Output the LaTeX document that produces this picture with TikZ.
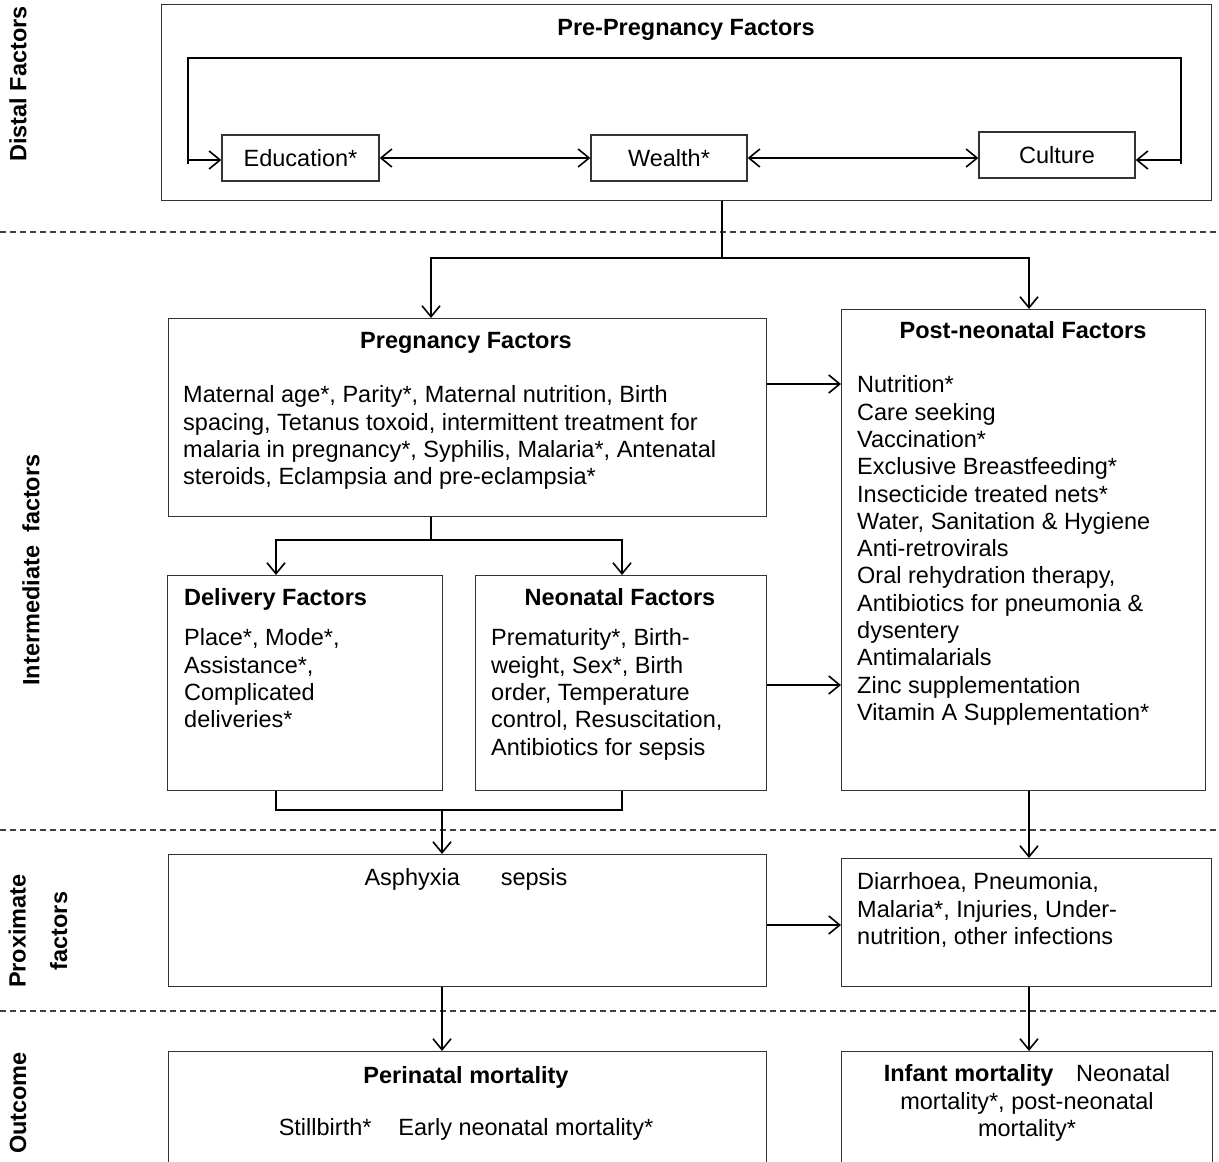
\documentclass[tikz,border=0pt]{standalone}
\usepackage{fontspec}
\setmainfont{Liberation Sans}
\usetikzlibrary{arrows.meta}
\begin{document}
\begin{tikzpicture}[x=1pt,y=-1pt,
  box/.style={draw=black!80, line width=1.3pt, inner sep=0pt, anchor=north west},
  sbox/.style={draw=black!80, line width=1.3pt, inner sep=0pt, minimum height=46pt, font=\fontsize{23.5}{27.3}\selectfont},
  conn/.style={line width=1.8pt},
  barb/.tip={Straight Barb[length=11pt,width=18pt,line width=1.6pt]},
  arr/.style={conn, -barb},
  darr/.style={conn, barb-barb},
  txt/.style={inner sep=0pt, font=\fontsize{23.5}{27.3}\selectfont, align=left, anchor=north west},
  ctxt/.style={inner sep=0pt, font=\fontsize{23.5}{27.3}\selectfont, align=center},
  ttl/.style={inner sep=0pt, font=\fontsize{23.5}{27.3}\selectfont\bfseries, anchor=base},
  side/.style={inner sep=0pt, font=\fontsize{23.5}{41.5}\selectfont\bfseries, rotate=90, align=center},
  sepline/.style={dash pattern=on 6pt off 4pt, line width=1.2pt, black!75}]
\clip (0,0) rectangle (1219,1162);
\fill[white] (0,0) rectangle (1219,1162);

% separators
\draw[sepline] (0,232) -- (1219,232);
\draw[sepline] (0,830) -- (1219,830);
\draw[sepline] (0,1011) -- (1219,1011);

% side labels
\node[side] (lDistal) at (18,84) {Distal Factors};
\node[side] (lInter) at (31,570) {Intermediate\ \ factors};
\node[side] (lProx) at (38,931) {Proximate\\factors};
\node[side] (lOut) at (18,1103) {Outcome};

% boxes
\node[box, minimum width=1050pt, minimum height=196pt] (pre) at (161,4) {};
\node[sbox, minimum width=157pt] (edu) at (300.5,158) {Education*};
\node[sbox, minimum width=156pt] (wea) at (669,158) {Wealth*};
\node[sbox, minimum width=156pt] (cul) at (1057,155) {Culture};
\node[box, minimum width=598pt, minimum height=198pt] (preg) at (168,318) {};
\node[box, minimum width=364pt, minimum height=481pt] (post) at (841,309) {};
\node[box, minimum width=275pt, minimum height=215pt] (deliv) at (167,575) {};
\node[box, minimum width=291pt, minimum height=215pt] (neo) at (475,575) {};
\node[box, minimum width=598pt, minimum height=132pt] (asp) at (168,854) {};
\node[box, minimum width=370pt, minimum height=128pt] (prox) at (841,858) {};
\node[box, minimum width=598pt, minimum height=160pt] (peri) at (168,1051) {};
\node[box, minimum width=371pt, minimum height=160pt] (inf) at (841,1051) {};

% titles and texts
\node[ttl] (tPre) at (686,35.4) {Pre-Pregnancy Factors};
\node[ttl] (tPreg) at (466,348.4) {Pregnancy Factors};
\node[txt] (xPreg) at (183,385.6) {Maternal age*, Parity*, Maternal nutrition, Birth\\spacing, Tetanus toxoid, intermittent treatment for\\malaria in pregnancy*, Syphilis, Malaria*, Antenatal\\steroids, Eclampsia and pre-eclampsia*};
\node[ttl] (tPost) at (1023,338.4) {Post-neonatal Factors};
\node[txt] (xPost) at (857,375.6) {Nutrition*\\Care seeking\\Vaccination*\\Exclusive Breastfeeding*\\Insecticide treated nets*\\Water, Sanitation \& Hygiene\\Anti-retrovirals\\Oral rehydration therapy,\\Antibiotics for pneumonia \&\\dysentery\\Antimalarials\\Zinc supplementation\\Vitamin A Supplementation*};
\node[ttl, anchor=base west] (tDel) at (184,605.4) {Delivery Factors};
\node[txt] (xDel) at (184,628.6) {Place*, Mode*,\\Assistance*,\\Complicated\\deliveries*};
\node[ttl] (tNeo) at (620,605.4) {Neonatal Factors};
\node[txt] (xNeo) at (491,628.6) {Prematurity*, Birth-\\weight, Sex*, Birth\\order, Temperature\\control, Resuscitation,\\Antibiotics for sepsis};
\node[ctxt, anchor=base] (xAsp) at (466,885.4) {Asphyxia\hspace{41pt}sepsis};
\node[txt] (xProx) at (857,872.6) {Diarrhoea, Pneumonia,\\Malaria*, Injuries, Under-\\nutrition, other infections};
\node[ttl] (tPeri) at (466,1083.4) {Perinatal mortality};
\node[ctxt, anchor=base] (xPeri) at (466,1135.4) {Stillbirth*\hspace{27pt}Early neonatal mortality*};
\node[ctxt, anchor=north] (xInf) at (1027,1064.6) {\textbf{Infant mortality}\hspace{16pt} Neonatal\\mortality*, post-neonatal\\mortality*};

% helper coordinates
\coordinate (loopL) at (188,58);
\coordinate (loopR) at (1181,58);
\coordinate (yEdu) at (0,160);
\coordinate (j1) at (722,258);
\coordinate (j2) at (431,540);
\coordinate (j3) at (442,810);
\coordinate (xa) at (276,0);
\coordinate (xb) at (622,0);
\coordinate (xc) at (431,0);
\coordinate (xe) at (1029,0);
\coordinate (y1) at (0,384);
\coordinate (y2) at (0,685);
\coordinate (y3) at (0,925);

% top loop
\draw[conn] (loopL |- 0,164) -- (loopL) -- (loopR) -- (loopR |- 0,164);
\draw[arr] (loopL |- yEdu) -- (edu.west |- yEdu);
\draw[arr] (loopR |- yEdu) -- (cul.east |- yEdu);
\draw[darr] (edu.east) -- (wea.west);
\draw[darr] (wea.east) -- (cul.west |- wea.east);

% distal to intermediate
\draw[conn] (pre.south -| j1) -- (j1);
\draw[arr] (j1) -| (preg.north -| xc);
\draw[arr] (j1) -| (post.north -| xe);

% pregnancy
\draw[arr] (preg.east |- y1) -- (post.west |- y1);
\draw[conn] (preg.south -| j2) -- (j2);
\draw[arr] (j2) -| (deliv.north -| xa);
\draw[arr] (j2) -| (neo.north -| xb);

% delivery / neonatal
\draw[conn] (deliv.south -| xa) |- (j3) -| (neo.south -| xb);
\draw[arr] (j3) -- (asp.north -| j3);
\draw[arr] (neo.east |- y2) -- (post.west |- y2);

% proximate
\draw[arr] (post.south -| xe) -- (prox.north -| xe);
\draw[arr] (asp.east |- y3) -- (prox.west |- y3);
\draw[arr] (asp.south -| j3) -- (peri.north -| j3);
\draw[arr] (prox.south -| xe) -- (inf.north -| xe);
\end{tikzpicture}
\end{document}
